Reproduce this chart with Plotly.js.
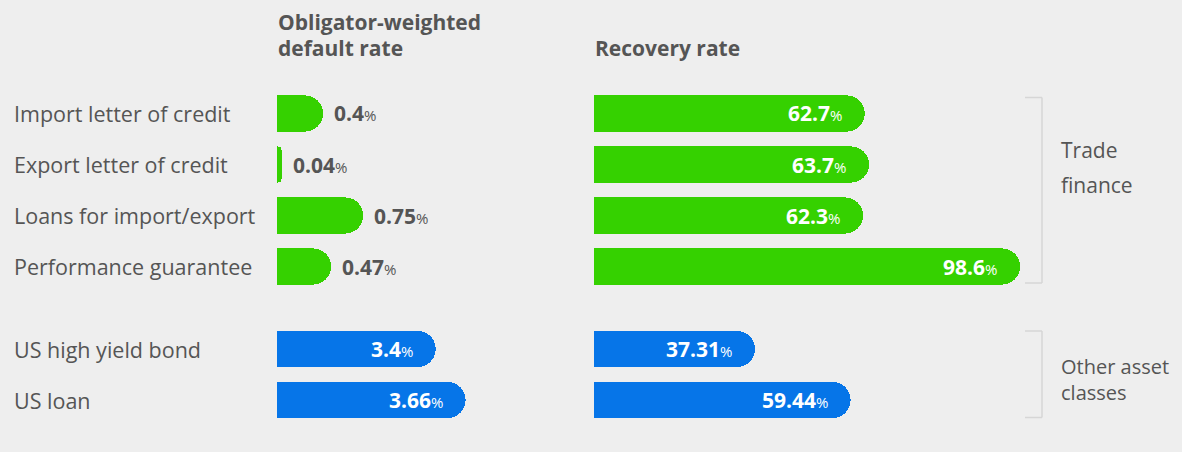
<!DOCTYPE html>
<html>
<head>
<meta charset="utf-8">
<script src="https://cdn.plot.ly/plotly-3.0.1.min.js"></script>
<style>
html,body{margin:0;padding:0;background:#eeeeee;}
#chart{width:1182px;height:452px;}
</style>
</head>
<body>
<div id="chart"></div>
<script>
// ---- data ----
const categoriesTrade = ["Import letter of credit", "Export letter of credit", "Loans for import/export", "Performance guarantee"];
const defaultTrade = [0.4, 0.04, 0.75, 0.47];
const recoveryTrade = [62.7, 63.7, 62.3, 98.6];
const categoriesOther = ["US high yield bond", "US loan"];
const defaultOther = [3.4, 3.66];
const recoveryOther = [37.31, 59.44];
const headerLabels = [["Obligator-weighted", "default rate"], ["Recovery rate"]];
const groupLabels = ["Trade", "finance", "Other asset<br>classes"];

// ---- styles ----
const W = 1182, H = 452;
const GREEN = "#35d100", BLUE = "#0675e8", TXT = "#555555", BG = "#eeeeee";
const FONT = "'Open Sans', 'Noto Sans', sans-serif";
const px = v => v / W;
const py = v => 1 - v / H;

// left panel scale ~115 px per 1 %, right panel ~4.33 px per 1 %
const leftStart = 277, leftEnd = 560, leftScale = 115;
const rightStart = 593.5, rightEnd = 1026.1;
const leftSpan = (leftEnd - leftStart) / leftScale;
const blueLeftFrom = 2.02; // truncated axis for the other-asset default rates

function barTrace(x, y, color, xa, ya) {
  return {
    type: "bar", orientation: "h", x: x, y: y, xaxis: xa, yaxis: ya,
    width: 0.71, hoverinfo: "skip", showlegend: false,
    marker: {color: color, cornerradius: 18, line: {width: 0}}
  };
}
const data = [
  barTrace(defaultTrade, categoriesTrade, GREEN, "x", "y"),
  barTrace(recoveryTrade, categoriesTrade, GREEN, "x3", "y"),
  barTrace(defaultOther, categoriesOther, BLUE, "x2", "y2"),
  barTrace(recoveryOther, categoriesOther, BLUE, "x3", "y2")
];

function valText(v) {
  return "<b>" + v + "</b><span style='font-size:15px;font-weight:normal'>%</span>";
}
const annotations = [];
function valueLabels(vals, cats, xref, yref, inside) {
  vals.forEach((v, i) => annotations.push({
    x: v, y: cats[i], xref: xref, yref: yref, showarrow: false,
    text: valText(v), xanchor: inside ? "right" : "left", xshift: inside ? -21 : 9,
    font: {family: FONT, size: 21, color: inside ? "#ffffff" : TXT}
  }));
}
valueLabels(defaultTrade, categoriesTrade, "x", "y", false);
valueLabels(recoveryTrade, categoriesTrade, "x3", "y", true);
valueLabels(defaultOther, categoriesOther, "x2", "y2", true);
valueLabels(recoveryOther, categoriesOther, "x3", "y2", true);

function catLabels(cats, yref) {
  cats.forEach(c => annotations.push({
    x: px(12), y: c, xref: "paper", yref: yref, showarrow: false,
    text: c, xanchor: "left", font: {family: FONT, size: 21.5, color: TXT}
  }));
}
catLabels(categoriesTrade, "y");
catLabels(categoriesOther, "y2");

// headers
const headerX = [276, 593];
const headerY = [[22, 48], [48]];
headerLabels.forEach((h, hi) => h.forEach((t, li) => annotations.push({
  x: px(headerX[hi]), y: py(headerY[hi][li]), xref: "paper", yref: "paper", showarrow: false,
  text: "<b>" + t + "</b>", xanchor: "left", yanchor: "middle",
  font: {family: FONT, size: 21, color: TXT}
})));

// group labels
const groupLineY = [150, 185, 379.5];
const groupSize = [21, 21, 20];
groupLabels.forEach((t, i) => annotations.push({
  x: px(1059), y: py(groupLineY[i]), xref: "paper", yref: "paper", showarrow: false,
  text: t, xanchor: "left", yanchor: "middle", align: "left",
  font: {family: FONT, size: groupSize[i], color: TXT}
}));

// brackets
const BR = "#d6d6d6";
function bracket(y0, y1) {
  return [
    {type: "line", xref: "paper", yref: "paper", x0: px(1042), x1: px(1042), y0: py(y0), y1: py(y1), line: {color: BR, width: 1.5}},
    {type: "line", xref: "paper", yref: "paper", x0: px(1025), x1: px(1042), y0: py(y0), y1: py(y0), line: {color: BR, width: 1.5}},
    {type: "line", xref: "paper", yref: "paper", x0: px(1025), x1: px(1042), y0: py(y1), y1: py(y1), line: {color: BR, width: 1.5}}
  ];
}
const shapes = bracket(97.5, 283).concat(bracket(331, 417.5));

const hidden = {visible: false, fixedrange: true};
const layout = {
  width: W, height: H,
  margin: {l: 0, r: 0, t: 0, b: 0},
  paper_bgcolor: BG, plot_bgcolor: "rgba(0,0,0,0)",
  font: {family: FONT, color: TXT},
  bargap: 0,
  xaxis: Object.assign({domain: [px(leftStart), px(leftEnd)], range: [0, leftSpan], anchor: "y"}, hidden),
  xaxis2: Object.assign({domain: [px(leftStart), px(leftEnd)], range: [blueLeftFrom, blueLeftFrom + leftSpan], anchor: "y2"}, hidden),
  xaxis3: Object.assign({domain: [px(rightStart), px(rightEnd)], range: [0, 100], anchor: "y"}, hidden),
  yaxis: Object.assign({type: "category", categoryorder: "array", categoryarray: categoriesTrade,
    domain: [py(292), py(88)], range: [3.5, -0.5], anchor: "x"}, hidden),
  yaxis2: Object.assign({type: "category", categoryorder: "array", categoryarray: categoriesOther,
    domain: [py(425.5), py(323.5)], range: [1.5, -0.5], anchor: "x2"}, hidden),
  annotations: annotations,
  shapes: shapes
};

Plotly.newPlot("chart", data, layout, {displayModeBar: false, staticPlot: true});
</script>
</body>
</html>
